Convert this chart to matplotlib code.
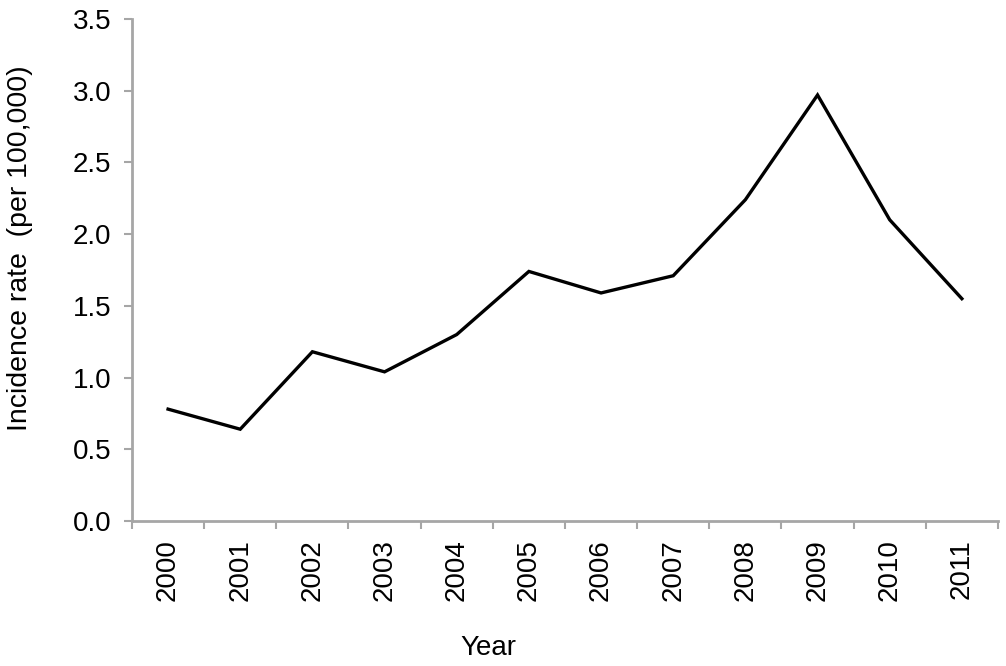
import numpy as np
import matplotlib
matplotlib.use("Agg")
import matplotlib.pyplot as plt
from matplotlib.ticker import FixedLocator

# incidence rate per 100,000
years = ["2000", "2001", "2002", "2003", "2004", "2005",
         "2006", "2007", "2008", "2009", "2010", "2011"]
rate = [0.78, 0.64, 1.18, 1.04, 1.30, 1.74, 1.59, 1.71, 2.24, 2.97, 2.10, 1.55]
yticks = [0.0, 0.5, 1.0, 1.5, 2.0, 2.5, 3.0, 3.5]

plt.rcParams['font.family'] = ['Liberation Sans', 'DejaVu Sans']
grey = '#a6a6a6'

fig = plt.figure(figsize=(10.06, 6.66), dpi=100)
ax = fig.add_axes([0.1312, 0.2177, 0.8608, 0.7538])

x = np.arange(len(years))
ax.plot(x, rate, color='black', lw=2.4, solid_joinstyle='miter')

ax.set_xlim(-0.5, len(years) - 0.5)
ax.set_ylim(0, 3.5)
ax.set_yticks(yticks)
ax.set_yticklabels(["%.1f" % v for v in yticks], fontsize=20)

ax.set_xticks(x)
ax.set_xticklabels(years, rotation=90, fontsize=20)
ax.xaxis.set_minor_locator(FixedLocator(np.arange(-0.5, len(years), 1.0)))
ax.tick_params(axis='x', which='major', length=0, pad=13)
ax.tick_params(axis='x', which='minor', length=6, width=1.5, color=grey, direction='out')
ax.tick_params(axis='y', length=6, width=1.5, color=grey, direction='out', pad=9)

for s in ['top', 'right']:
    ax.spines[s].set_visible(False)
for s in ['left', 'bottom']:
    ax.spines[s].set_color(grey)
    ax.spines[s].set_linewidth(2)

fig.text(0.02, 0.628, "Incidence rate  (per 100,000)", rotation=90,
         fontsize=20.5, ha='center', va='center')
fig.text(0.485, 0.027, "Year", fontsize=20, ha='center', va='center')

fig.savefig("out.png", dpi=100)
